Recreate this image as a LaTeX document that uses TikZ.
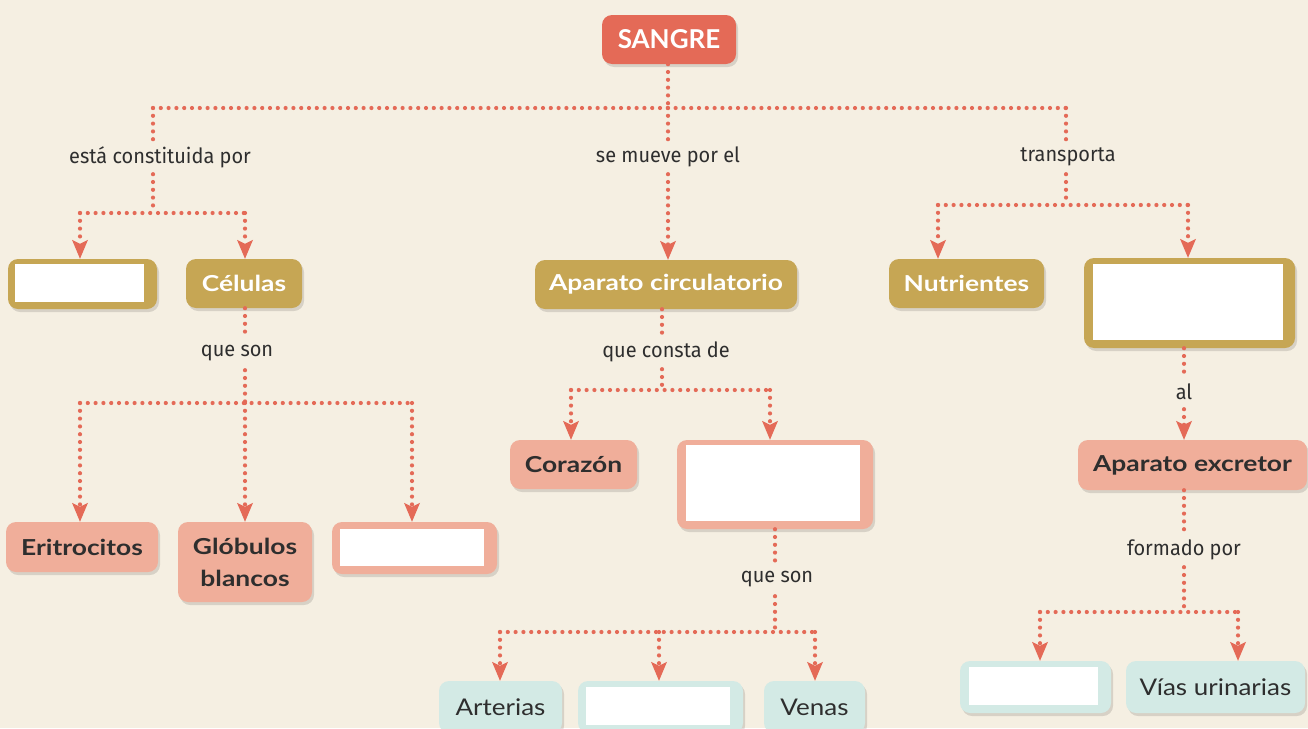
\documentclass[tikz,border=0pt]{standalone}
\usepackage{fontspec}
\setmainfont{Lato}
\newfontfamily\boldbox{Lato}[FakeStretch=1.2]
\newfontfamily\regbox{Lato}[FakeStretch=1.13]
\newfontfamily\lblfont{Fira Sans}[FakeStretch=0.95]
\usetikzlibrary{arrows.meta,shadows}
\definecolor{bg}{HTML}{F5EFE2}
\definecolor{cred}{HTML}{E46A57}
\definecolor{cgold}{HTML}{C6A654}
\definecolor{csal}{HTML}{F0AE9A}
\definecolor{cteal}{HTML}{D3EAE5}
\definecolor{ctext}{HTML}{2E2E2E}
\tikzset{
  bx/.style={rounded corners=10pt, inner sep=0pt, align=center,
    drop shadow={shadow xshift=2pt, shadow yshift=-3pt, opacity=0.12, fill=black}},
  topbox/.style={bx, fill=cred, text=white, font=\fontsize{26}{28}\selectfont\bfseries},
  goldbox/.style={bx, fill=cgold, text=white, font=\boldbox\fontsize{22}{26}\selectfont\bfseries},
  salbox/.style={bx, fill=csal, text=ctext, font=\boldbox\fontsize{22}{32}\selectfont\bfseries},
  tealbox/.style={bx, fill=cteal, text=ctext, font=\regbox\fontsize{23}{26}\selectfont},
  blank/.style={fill=white, inner sep=0pt},
  lbl/.style={text=ctext, font=\lblfont\fontsize{21}{24}\selectfont, inner sep=0pt, minimum height=34pt},
  dots/.style={cred, line width=4.2pt, line cap=round, dash pattern=on 0pt off 7.8pt},
  arr/.style={dots, -{Stealth[length=19pt, width=16pt, inset=4pt, line width=0pt]}},
}
\begin{document}
\begin{tikzpicture}[x=1pt,y=-1pt]
\fill[bg] (0,0) rectangle (1308,728);
\useasboundingbox (0,0) rectangle (1308,728);

% ---- boxes ----
\node[topbox, minimum width=134pt, minimum height=49pt] (sangre) at (669,39.5) {SANGRE};

\node[goldbox, minimum width=149pt, minimum height=50pt] (b1) at (82.5,284) {};
\node[blank, minimum width=129pt, minimum height=38pt] (b1in) at (79.5,283) {};
\node[goldbox, minimum width=116pt, minimum height=49pt] (cel) at (244,283.5) {Células};
\node[goldbox, minimum width=262pt, minimum height=49pt] (circ) at (666,284.5) {Aparato circulatorio};
\node[goldbox, minimum width=155pt, minimum height=49pt] (nut) at (966.5,283.5) {Nutrientes};
\node[goldbox, minimum width=211pt, minimum height=90pt] (b2) at (1189.5,303) {};
\node[blank, minimum width=190pt, minimum height=76pt] (b2in) at (1188,302) {};

\node[salbox, minimum width=152pt, minimum height=50pt] (eri) at (82,547) {Eritrocitos};
\node[salbox, minimum width=134pt, minimum height=80pt] (glo) at (245,562) {Glóbulos\\blancos};
\node[salbox, minimum width=165pt, minimum height=52pt] (b3) at (414.5,548) {};
\node[blank, minimum width=144pt, minimum height=37pt] (b3in) at (412,547.5) {};

\node[salbox, minimum width=127pt, minimum height=49pt] (cor) at (573.5,464.5) {Corazón};
\node[salbox, minimum width=196pt, minimum height=89pt] (b4) at (775,484.5) {};
\node[blank, minimum width=174pt, minimum height=76pt] (b4in) at (773,483) {};
\node[salbox, minimum width=229pt, minimum height=50pt] (exc) at (1192.5,465) {Aparato excretor};

\node[tealbox, minimum width=123pt, minimum height=52pt] (art) at (500.5,707) {Arterias};
\node[tealbox, minimum width=165pt, minimum height=52pt] (b5) at (660.5,707) {};
\node[blank, minimum width=144pt, minimum height=38pt] (b5in) at (658,706) {};
\node[tealbox, minimum width=101pt, minimum height=52pt] (ven) at (814.5,707) {Venas};

\node[tealbox, minimum width=151pt, minimum height=52pt] (b6) at (1035.5,687) {};
\node[blank, minimum width=129pt, minimum height=38pt] (b6in) at (1033.5,686) {};
\node[tealbox, minimum width=179pt, minimum height=52pt] (via) at (1215.5,687) {Vías urinarias};

% ---- labels ----
\node[lbl] (l1) at (160,157) {está constituida por};
\node[lbl] (l2) at (668,157) {se mueve por el};
\node[lbl] (l3) at (1068,157) {transporta};
\node[lbl] (l4) at (237,353) {que son};
\node[lbl] (l5) at (666,352) {que consta de};
\node[lbl] (l6) at (1184,392) {al};
\node[lbl] (l7) at (777,579) {que son};
\node[lbl] (l8) at (1184,550) {formado por};

% ---- junctions ----
\coordinate (j0) at (668,108);
\coordinate (jL) at (153,108);
\coordinate (jR) at (1066,108);
\coordinate (jL2) at (153,213);
\coordinate (jLa) at (80,213);
\coordinate (jLb) at (245,213);
\coordinate (jR2) at (1066,205);
\coordinate (jRa) at (938,205);
\coordinate (jRb) at (1188,205);
\coordinate (jC) at (245,403);
\coordinate (jCa) at (80,403);
\coordinate (jCc) at (412,403);
\coordinate (jM) at (662,390);
\coordinate (jMa) at (571,390);
\coordinate (jMb) at (770,390);
\coordinate (jV) at (775,632);
\coordinate (jVa) at (500,632);
\coordinate (jVb) at (659,632);
\coordinate (jVc) at (815,632);
\coordinate (jE) at (1184,612);
\coordinate (jEa) at (1040,612);
\coordinate (jEb) at (1238,612);

% ---- connectors ----
\draw[dots] (sangre.south -| j0) -- (j0);
\draw[dots] (jL) -- (jR);
\draw[dots] (jL) -- (l1.north -| jL);
\draw[dots] (l1.south -| jL) -- (jL2);
\draw[dots] (jLa) -- (jLb);
\draw[arr] (jLa) -- (b1.north -| jLa);
\draw[arr] (jLb) -- (cel.north -| jLb);
\draw[dots] (j0) -- (l2.north);
\draw[arr] (l2.south) -- (circ.north -| l2.south);
\draw[dots] (jR) -- (l3.north -| jR);
\draw[dots] (l3.south -| jR) -- (jR2);
\draw[dots] (jRa) -- (jRb);
\draw[arr] (jRa) -- (nut.north -| jRa);
\draw[arr] (jRb) -- (b2.north -| jRb);

\draw[dots] (cel.south -| jC) -- (l4.north -| jC);
\draw[dots] (l4.south -| jC) -- (jC);
\draw[dots] (jCa) -- (jCc);
\draw[arr] (jCa) -- (eri.north -| jCa);
\draw[arr] (jC) -- (glo.north -| jC);
\draw[arr] (jCc) -- (b3.north -| jCc);

\draw[dots] (circ.south -| jM) -- (l5.north -| jM);
\draw[dots] (l5.south -| jM) -- (jM);
\draw[dots] (jMa) -- (jMb);
\draw[arr] (jMa) -- (cor.north -| jMa);
\draw[arr] (jMb) -- (b4.north -| jMb);

\draw[dots] (b4.south -| jV) -- (l7.north -| jV);
\draw[dots] (l7.south -| jV) -- (jV);
\draw[dots] (jVa) -- (jVc);
\draw[arr] (jVa) -- (art.north -| jVa);
\draw[arr] (jVb) -- (b5.north -| jVb);
\draw[arr] (jVc) -- (ven.north -| jVc);

\draw[dots] (b2.south -| l6) -- (l6.north);
\draw[arr] (l6.south) -- (exc.north -| l6.south);
\draw[dots] (exc.south -| jE) -- (l8.north -| jE);
\draw[dots] (l8.south -| jE) -- (jE);
\draw[dots] (jEa) -- (jEb);
\draw[arr] (jEa) -- (b6.north -| jEa);
\draw[arr] (jEb) -- (via.north -| jEb);
\end{tikzpicture}
\end{document}
